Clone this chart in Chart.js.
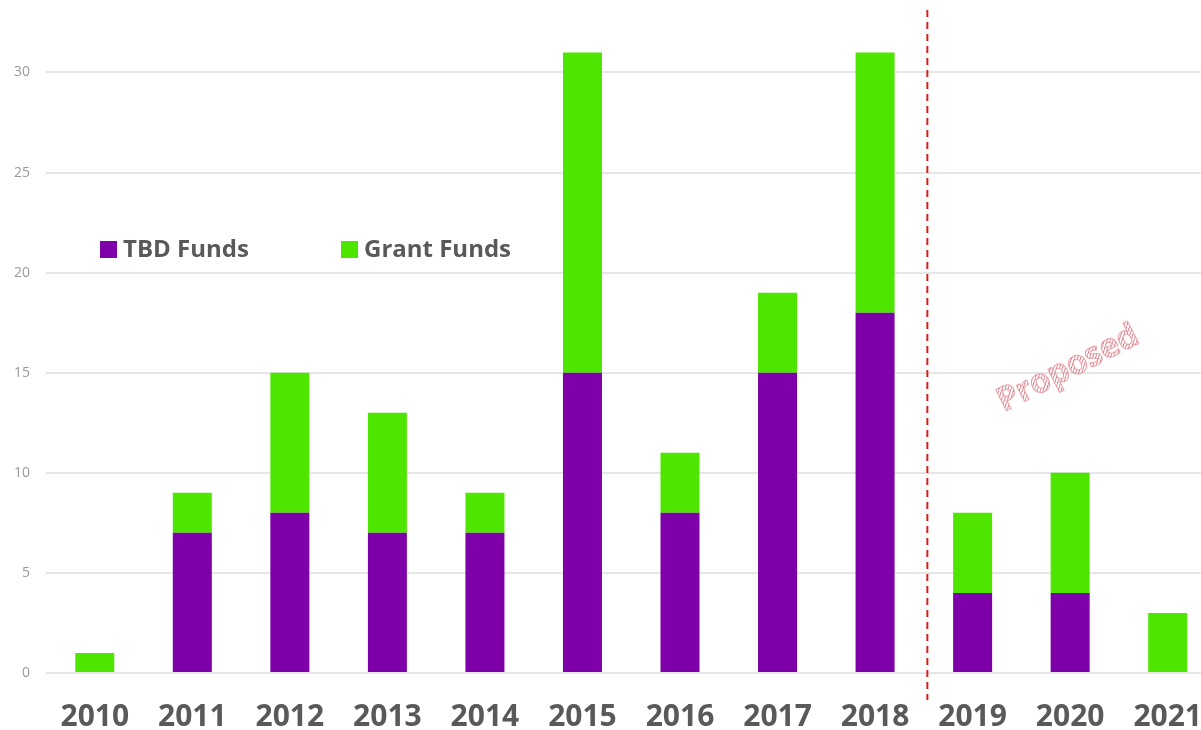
<!DOCTYPE html>
<html>
<head>
<meta charset="utf-8">
<script src="https://cdn.jsdelivr.net/npm/chart.js@4.4.0/dist/chart.umd.min.js"></script>
<style>
  html, body { margin: 0; padding: 0; background: #fff; overflow: hidden; }
  #wrap { width: 1201px; height: 730px; overflow: hidden; position: relative; }
  #myChart { position: absolute; left: -2px; top: 0; }
</style>
</head>
<body>
<div id="wrap"><canvas id="myChart" width="1233" height="761"></canvas></div>
<script>
var years = ["2010", "2011", "2012", "2013", "2014", "2015", "2016", "2017", "2018", "2019", "2020", "2021"];
var tbdFunds = [0, 7, 8, 7, 7, 15, 8, 15, 18, 4, 4, 0];
var grantFunds = [1, 2, 7, 6, 2, 16, 3, 4, 13, 4, 6, 3];
var yTicks = [0, 5, 10, 15, 20, 25, 30];

var purple = 'rgb(126, 0, 168)';
var green = 'rgb(78, 229, 0)';

// legend drawn inside the plot, plus the "proposed" divider
var extras = {
    id: 'extras',
    afterDraw: function(chart) {
        var c = chart.ctx;
        var x = chart.scales.x;
        var y = chart.scales.y;

        // legend (canvas is shifted 2px left)
        c.save();
        c.font = 'bold 24px "Open Sans"';
        c.textBaseline = 'middle';
        var items = [[102, purple, 'TBD Funds'], [343, green, 'Grant Funds']];
        items.forEach(function(it) {
            c.fillStyle = it[1];
            c.fillRect(it[0], 241, 17, 17);
            c.fillStyle = '#595959';
            c.fillText(it[2], it[0] + 23, 250);
        });
        c.restore();

        // dashed divider between 2018 and 2019
        var xd = (x.getPixelForValue(8) + x.getPixelForValue(9)) / 2 + 3.5;
        c.save();
        c.strokeStyle = '#d42020';
        c.lineWidth = 2;
        c.setLineDash([7, 5]);
        c.beginPath();
        c.moveTo(xd, 10);
        c.lineTo(xd, 700);
        c.stroke();
        c.restore();

        // "Proposed" hatched text
        var pc = document.createElement('canvas');
        pc.width = 4; pc.height = 4;
        var p = pc.getContext('2d');
        p.strokeStyle = 'rgba(180, 50, 60, 0.8)';
        p.lineWidth = 1;
        p.beginPath();
        p.moveTo(0, 4); p.lineTo(4, 0);
        p.stroke();
        c.save();
        c.translate(x.getPixelForValue(9.98), y.getPixelForValue(15.2));
        c.rotate(-0.47);
        c.font = 'bold 33px "Open Sans"';
        c.textAlign = 'center';
        c.textBaseline = 'middle';
        c.fillStyle = c.createPattern(pc, 'repeat');
        c.fillText('Proposed', 0, 0);
        c.strokeStyle = 'rgba(235, 150, 160, 0.9)';
        c.lineWidth = 1;
        c.strokeText('Proposed', 0, 0);
        c.restore();
    }
};

var ctx = document.getElementById("myChart");
var chart = new Chart(ctx, {
    type: 'bar',
    data: {
        labels: years,
        datasets: [{
            label: "TBD Funds",
            backgroundColor: purple,
            data: tbdFunds
        }, {
            label: "Grant Funds",
            backgroundColor: green,
            data: grantFunds
        }]
    },
    options: {
        responsive: false,
        animation: false,
        layout: { padding: 0 },
        plugins: { legend: { display: false }, tooltip: { enabled: false } },
        datasets: { bar: { categoryPercentage: 1, barPercentage: 0.4 } },
        scales: {
            x: {
                stacked: true,
                grid: { display: false, drawTicks: false },
                border: { display: false },
                ticks: {
                    padding: 29,
                    color: '#595959',
                    font: { family: '"Open Sans"', size: 30, weight: 'bold', lineHeight: 1 },
                    maxRotation: 0
                }
            },
            y: {
                stacked: true,
                min: 0,
                max: 32.4,
                afterBuildTicks: function(s) {
                    s.ticks = yTicks.map(function(v) { return { value: v }; });
                },
                grid: { color: '#e6e6e6', lineWidth: 2, drawTicks: false },
                border: { display: false },
                ticks: {
                    padding: 16,
                    color: '#9a9a9a',
                    font: { family: '"Open Sans"', size: 14 }
                }
            }
        }
    },
    plugins: [extras]
});
</script>
</body>
</html>
